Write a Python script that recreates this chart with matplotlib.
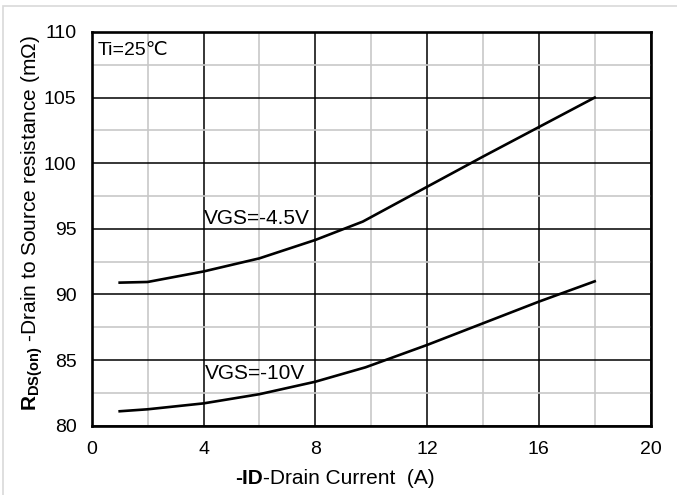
import matplotlib
matplotlib.use("Agg")
import matplotlib.pyplot as plt
from matplotlib.patches import Rectangle
from matplotlib.ticker import MultipleLocator

plt.rcParams['font.family'] = ['Liberation Sans', 'DejaVu Sans']
plt.rcParams['mathtext.fontset'] = 'custom'
plt.rcParams['mathtext.rm'] = 'Liberation Sans'
plt.rcParams['mathtext.bf'] = 'Liberation Sans:bold'

# drain current (A) and Rds(on) (mOhm)
id_45 = [1, 2, 4, 6, 8, 9.7, 12, 14, 16, 18]
rds_45 = [90.9, 90.95, 91.75, 92.75, 94.15, 95.55, 98.2, 100.5, 102.75, 105.0]

id_10 = [1, 2, 4, 6, 8, 9.8, 12, 14, 16, 18]
rds_10 = [81.1, 81.25, 81.7, 82.4, 83.35, 84.45, 86.15, 87.8, 89.45, 91.0]

fig = plt.figure(figsize=(6.77, 4.95), dpi=100)
ax = fig.add_axes([0.1355, 0.14, 0.8255, 0.7955])

ax.plot(id_45, rds_45, color='black', linewidth=1.9, zorder=5)
ax.plot(id_10, rds_10, color='black', linewidth=1.9, zorder=5)

ax.set_xlim(0, 20)
ax.set_ylim(80, 110)
ax.xaxis.set_major_locator(MultipleLocator(4))
ax.xaxis.set_minor_locator(MultipleLocator(2))
ax.yaxis.set_major_locator(MultipleLocator(5))
ax.yaxis.set_minor_locator(MultipleLocator(2.5))
ax.grid(which='minor', color='#c8c8c8', linewidth=1.2, zorder=1)
ax.grid(which='major', color='black', linewidth=1.1, zorder=2)
ax.set_axisbelow(True)
ax.tick_params(which='both', length=0, labelsize=14)
ax.tick_params(axis='x', pad=11)
ax.tick_params(axis='y', pad=11)
for s in ax.spines.values():
    s.set_linewidth(1.9)
    s.set_zorder(6)

ax.text(0.22, 108.6, "Ti=25℃", fontsize=14, va='center', ha='left')
ax.text(4.0, 95.8, "VGS=-4.5V", fontsize=15, va='center', ha='left')
ax.text(4.05, 84.0, "VGS=-10V", fontsize=15, va='center', ha='left')

ax.set_ylabel(r"$\mathbf{R}_{\mathbf{DS(on)}}$ -Drain to Source resistance (m$\Omega$)",
              fontsize=15)
ax.yaxis.set_label_coords(-0.083, 0.515)

# x label: bold "-ID" followed by regular text
t1 = fig.text(0.347, 0.022, "-ID", fontsize=15, weight='bold', ha='left', va='baseline')
fig.canvas.draw()
bb = t1.get_window_extent()
fig.text(bb.x1 / fig.bbox.width, 0.022, "-Drain Current  (A)", fontsize=15,
         ha='left', va='baseline')

fig.add_artist(Rectangle((3 / 677, -0.1), 1.2, 1.1 - 6 / 495, transform=fig.transFigure,
                         fill=False, edgecolor='#d9d9d9', linewidth=1.2))

fig.savefig("out.png", dpi=100)
